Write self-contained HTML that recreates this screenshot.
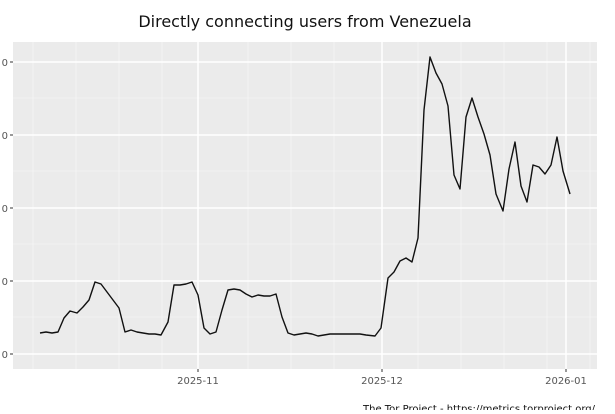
<!DOCTYPE html>
<html><head><style>
body{margin:0;background:#fff;width:615px;height:410px;overflow:hidden;font-family:"DejaVu Sans","Liberation Sans",sans-serif}
</style></head><body>
<svg width="615" height="410" xmlns="http://www.w3.org/2000/svg" font-family="DejaVu Sans, Liberation Sans, sans-serif">
<text x="305" y="27" text-anchor="middle" font-size="16" fill="#111">Directly connecting users from Venezuela</text>
<rect x="13" y="42" width="584" height="327" fill="#ebebeb"/>
<g stroke="#f5f5f5" stroke-width="0.8">
<line x1="13" x2="597" y1="98" y2="98"/><line x1="13" x2="597" y1="171" y2="171"/><line x1="13" x2="597" y1="244" y2="244"/><line x1="13" x2="597" y1="317" y2="317"/>
<line x1="33" x2="33" y1="42" y2="369"/><line x1="76" x2="76" y1="42" y2="369"/><line x1="119" x2="119" y1="42" y2="369"/><line x1="162" x2="162" y1="42" y2="369"/><line x1="418" x2="418" y1="42" y2="369"/><line x1="461" x2="461" y1="42" y2="369"/><line x1="504" x2="504" y1="42" y2="369"/><line x1="547" x2="547" y1="42" y2="369"/><line x1="590" x2="590" y1="42" y2="369"/>
<line x1="248" x2="248" y1="42" y2="369"/><line x1="291" x2="291" y1="42" y2="369"/><line x1="334" x2="334" y1="42" y2="369"/>
</g>
<g stroke="#fff" stroke-width="1.5">
<line x1="13" x2="597" y1="62" y2="62"/><line x1="13" x2="597" y1="135" y2="135"/><line x1="13" x2="597" y1="208" y2="208"/><line x1="13" x2="597" y1="281" y2="281"/><line x1="13" x2="597" y1="354" y2="354"/>
<line x1="198" x2="198" y1="42" y2="369"/><line x1="382" x2="382" y1="42" y2="369"/><line x1="566" x2="566" y1="42" y2="369"/>
</g>
<g stroke="#333" stroke-width="1"><line x1="10" x2="13" y1="62" y2="62"/><line x1="10" x2="13" y1="135" y2="135"/><line x1="10" x2="13" y1="208" y2="208"/><line x1="10" x2="13" y1="281" y2="281"/><line x1="10" x2="13" y1="354" y2="354"/>
<line x1="198" x2="198" y1="369" y2="372"/><line x1="382" x2="382" y1="369" y2="372"/><line x1="566" x2="566" y1="369" y2="372"/></g>
<g font-size="10" fill="#555" text-anchor="end"><text x="8" y="66">0</text><text x="8" y="139">0</text><text x="8" y="212">0</text><text x="8" y="285">0</text><text x="8" y="358">0</text></g>
<g font-size="10" fill="#555" text-anchor="middle"><text x="198" y="384">2025-11</text><text x="382" y="384">2025-12</text><text x="566" y="384">2026-01</text></g>
<polyline fill="none" stroke="#111" stroke-width="1.4" stroke-linejoin="round" points="40,333 46,332 52,333 58,332 64,318 70,311 77,313 83,307 89,300 95,282 101,284 107,292 113,300 119,308 125,332 131,330 137,332 143,333 149,334 155,334 161,335 168,322 174,285 180,285 186,284 192,282 198,295 204,328 210,334 216,332 222,310 228,290 234,289 240,290 246,294 252,297 258,295 264,296 270,296 276,294 282,317 288,333 294,335 300,334 306,333 312,334 318,336 324,335 330,334 336,334 342,334 348,334 354,334 360,334 366,335 375,336 381,328 388,278 394,272 400,261 406,258 412,262 418,238 424,110 430,57 436,73 442,84 448,106 454,175 460,189 466,117 472,98 478,117 484,134 490,155 496,194 503,211 509,169 515,142 521,186 527,202 533,165 539,167 545,174 551,165 557,137 563,171 570,194"/>
<text x="363" y="412" font-size="10" fill="#111">The Tor Project - https://metrics.torproject.org/</text>
</svg>
</body></html>
